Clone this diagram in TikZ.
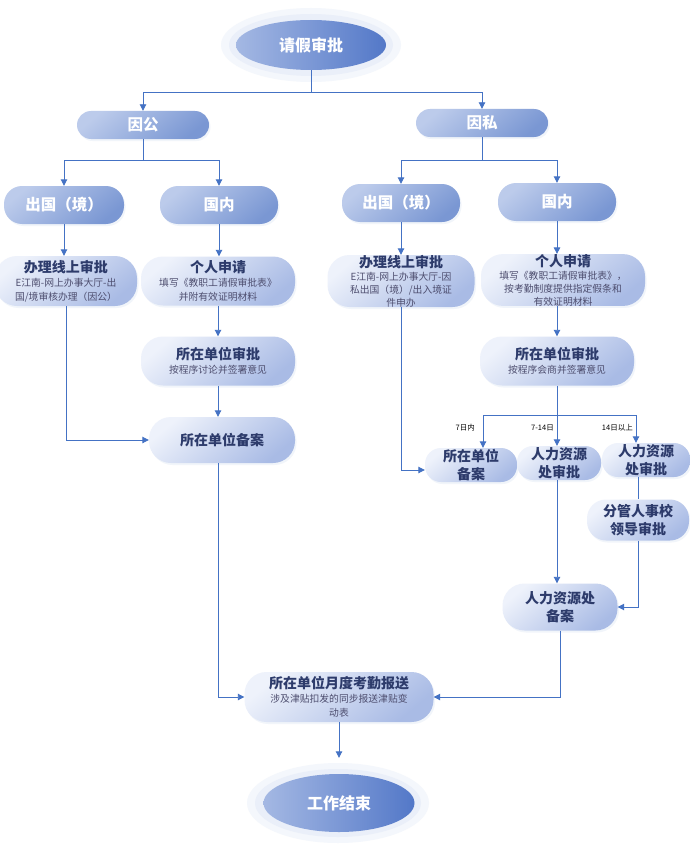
\documentclass[tikz,border=0pt]{standalone}
\usepackage{fontspec}
\setmainfont{Noto Sans CJK SC}
\usetikzlibrary{arrows.meta,shadows,shapes.geometric}
\definecolor{ln}{HTML}{4472C4}
\definecolor{dkA}{HTML}{BCCBEB}
\definecolor{dkB}{HTML}{7A97D3}
\definecolor{ltA}{HTML}{EEF2FB}
\definecolor{ltB}{HTML}{A9BBE5}
\definecolor{elA}{HTML}{A4B8E3}
\definecolor{elB}{HTML}{5378C8}
\definecolor{glowA}{HTML}{F4F7FC}
\definecolor{glowB}{HTML}{EAEFF9}
\definecolor{ttlc}{HTML}{2D3B6B}
\definecolor{subc}{HTML}{4D4D6E}
\newcommand{\ttlx}[1]{{\bfseries\fontsize{14}{15}\selectfont\color{ttlc}#1}}
\newcommand{\subx}[1]{{\fontsize{9.8}{11}\selectfont\color{subc}#1}}
\begin{document}
\begin{tikzpicture}[x=1pt,y=-1pt,
  conn/.style={draw=ln, line width=0.9pt},
  arr/.style={conn,-{Triangle[width=6.5pt,length=6.5pt]}},
  shad/.style={drop shadow={shadow xshift=1.5pt,shadow yshift=-2pt,opacity=.07,fill=ln}},
  darkbox/.style={rectangle, rounded corners=14pt, inner sep=0pt,
    top color=dkA, bottom color=dkB, shading angle=40, draw=none,
    text=white, font=\bfseries\fontsize{15.5}{17}\selectfont, shad},
  lbox/.style={rectangle, rounded corners=#1, inner sep=0pt, align=center,
    top color=ltA, bottom color=ltB, shading angle=40, draw=none,
    font=\fontsize{9.8}{13.8}\selectfont, shad},
  lbox/.default=22pt,
  hbox/.style={lbox=#1, font=\bfseries\fontsize{14}{17.5}\selectfont, text=ttlc},
  ell/.style={ellipse, inner sep=0pt, left color=elA, right color=elB, draw=none,
    text=white, font=\bfseries\fontsize{16}{18}\selectfont},
  lab/.style={font=\fontsize{7.5}{9}\selectfont, text=black, inner sep=0pt}
]
\useasboundingbox (0,0) rectangle (689,856);
\fill[white] (0,0) rectangle (689,856);

% glows
\fill[glowA] (311,45) ellipse [x radius=90, y radius=37];
\fill[glowB] (311,45) ellipse [x radius=82, y radius=31];
\fill[glowA] (338,803) ellipse [x radius=91, y radius=40];
\fill[glowB] (338,803) ellipse [x radius=83, y radius=34];

% nodes
\node[ell, minimum width=150pt, minimum height=50pt] (start) at (311,45) {请假审批};
\node[darkbox, minimum width=132pt, minimum height=28pt] (yg) at (143,125) {因公};
\node[darkbox, minimum width=132pt, minimum height=28pt] (ys) at (482,123) {因私};
\node[darkbox, rounded corners=18pt, minimum width=120pt, minimum height=38pt] (cg1) at (64,205) {出国（境）};
\node[darkbox, rounded corners=18pt, minimum width=118pt, minimum height=38pt] (gn1) at (219,205) {国内};
\node[darkbox, rounded corners=18pt, minimum width=118pt, minimum height=38pt] (cg2) at (401,203) {出国（境）};
\node[darkbox, rounded corners=18pt, minimum width=118pt, minimum height=38pt] (gn2) at (557,202) {国内};

\node[lbox, minimum width=142pt, minimum height=50pt] (bl1) at (66,281)
  {\ttlx{办理线上审批}\\\subx{E江南-网上办事大厅-出}\\\subx{国/境审核办理（因公）}};
\node[lbox, minimum width=154pt, minimum height=49pt] (sq1) at (218,281)
  {\ttlx{个人申请}\\\subx{填写《教职工请假审批表》}\\\subx{并附有效证明材料}};
\node[lbox, minimum width=154pt, minimum height=49pt] (sp1) at (218,361)
  {\ttlx{所在单位审批}\\\subx{按程序讨论并签署意见}};
\node[lbox, minimum width=146pt, minimum height=46pt] (ba1) at (222,440)
  {\ttlx{所在单位备案}};

\node[lbox, font=\fontsize{9.8}{13}\selectfont, minimum width=147pt, minimum height=52pt] (bl2) at (401,281)
  {\ttlx{办理线上审批}\\\subx{E江南-网上办事大厅-因}\\\subx{私出国（境）/出入境证}\\\subx{件申办}};
\node[lbox, font=\fontsize{9.8}{13}\selectfont, minimum width=164pt, minimum height=50pt] (sq2) at (563,280)
  {\ttlx{个人申请}\\\subx{填写《教职工请假审批表》，}\\\subx{按考勤制度提供指定假条和}\\\subx{有效证明材料}};
\node[lbox, minimum width=154pt, minimum height=49pt] (sp2) at (557,361)
  {\ttlx{所在单位审批}\\\subx{按程序会商并签署意见}};

\node[hbox=16pt, minimum width=92pt, minimum height=34pt] (ba2) at (471,465) {所在单位\\备案};
\node[hbox=16pt, minimum width=84pt, minimum height=34pt] (hr1) at (559,463) {人力资源\\处审批};
\node[hbox=16pt, minimum width=88pt, minimum height=34pt] (hr2) at (646,460) {人力资源\\处审批};
\node[hbox=19pt, minimum width=102pt, minimum height=41pt] (fg) at (638,520) {分管人事校\\领导审批};
\node[hbox=22pt, minimum width=115pt, minimum height=47pt] (hb) at (560,607) {人力资源处\\备案};

\node[lbox, minimum width=189pt, minimum height=50pt] (yd) at (339,697)
  {\ttlx{所在单位月度考勤报送}\\\subx{涉及津贴扣发的同步报送津贴变}\\\subx{动表}};

\node[ell, minimum width=151pt, minimum height=58pt] (end) at (339,803) {工作结束};

% connectors
\draw[arr] (start.south) -- ++(0,22) -| (yg.north);
\draw[arr] (start.south) -- ++(0,22) -| (ys.north);
\draw[arr] (yg.south) -- ++(0,21) -| (cg1.north);
\draw[arr] (yg.south) -- ++(0,21) -| (gn1.north);
\draw[arr] (ys.south) -- ++(0,23) -| (cg2.north);
\draw[arr] (ys.south) -- ++(0,23) -| (gn2.north);

\draw[arr] (cg1.south) -- (cg1.south |- bl1.north);
\draw[arr] (gn1.south) -- (gn1.south |- sq1.north);
\draw[arr] (sq1.south) -- (sp1.north);
\draw[arr] (sp1.south) -- (sp1.south |- ba1.north);
\draw[arr] (bl1.south) |- (ba1.west);
\draw[arr] (ba1.south -| sp1.south) |- (yd.west);

\draw[arr] (cg2.south) -- (bl2.north);
\draw[arr] (gn2.south) -- (gn2.south |- sq2.north);
\draw[arr] (sp2.north |- sq2.south) -- (sp2.north);
\draw[arr] (bl2.south) |- ([yshift=-5pt]ba2.west);

\draw[conn] (sp2.south) -- ++(0,29.5) coordinate (br);
\draw[arr] (br) -| ([xshift=12pt]ba2.north);
\draw[arr] (br) -| (br |- hr1.north);
\draw[arr] (br) -| ([xshift=-10pt]hr2.north);
\node[lab, anchor=east] (l1) at (475,428) {7日内};
\node[lab, anchor=east] (l2) at (554,428) {7-14日};
\node[lab, anchor=east] (l3) at (633,428) {14日以上};

\draw[conn] (fg.north |- hr2.south) -- (fg.north);
\draw[arr] (fg.south) |- (hb.east);
\draw[arr] (br |- hr1.south) -- (br |- hb.north);
\draw[arr] (hb.south) |- (yd.east);
\draw[arr] (yd.south) -- ([yshift=16pt]end.north);
\end{tikzpicture}
\end{document}
